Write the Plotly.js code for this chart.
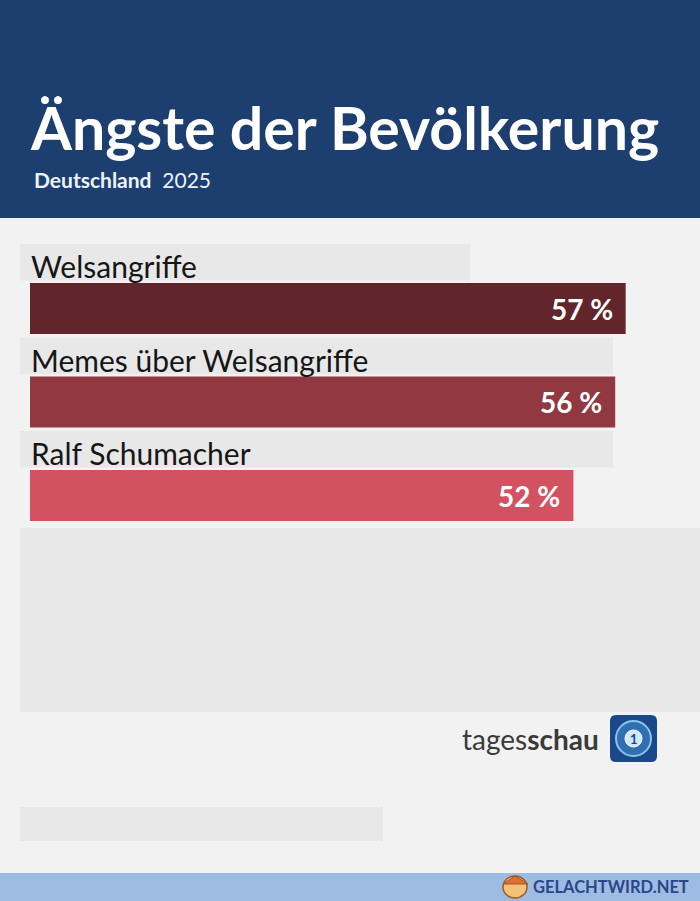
<!DOCTYPE html>
<html>
<head>
<meta charset="utf-8">
<script src="https://cdn.plot.ly/plotly-3.0.1.min.js"></script>
<style>
  html, body { margin: 0; padding: 0; background: #f2f2f2; }
  #chart { width: 700px; height: 901px; }
</style>
</head>
<body>
<div id="chart"></div>
<script>
// Survey data
const categories = ["Welsangriffe", "Memes über Welsangriffe", "Ralf Schumacher"];
const values = [57, 56, 52];
const valueLabels = values.map(v => v + " %");
const titleText = "Ängste der Bevölkerung";
const subtitleRegion = "Deutschland";
const subtitleYear = "2025";
const sourceLight = "tages";
const sourceBold = "schau";
const footerText = "GELACHTWIRD.NET";

// Page geometry (pixels)
const W = 700, H = 901;
const px = x => x / W;
const py = y => 1 - y / H;

const barColors = ["#62252b", "#923841", "#d35261"];
const labelBoxRight = [470, 613, 613];
const pxPerPct = 10.45;        // horizontal scale of the bars
const barLeft = 30;
const rowPitch = 93.5;         // vertical distance between rows
const firstRow = 308.5;        // centre of the first bar
const barHeight = 51;

const rowIdx = categories.map((_, i) => i);

const bars = {
  type: "bar",
  orientation: "h",
  x: values,
  y: rowIdx,
  width: barHeight / rowPitch,
  marker: { color: barColors, line: { width: 0 } },
  hoverinfo: "skip",
  showlegend: false
};

const shapes = [];
const annotations = [];

// header band
shapes.push({ type: "rect", xref: "paper", yref: "paper", x0: 0, x1: 1, y0: py(218), y1: 1,
  fillcolor: "#1c3f6f", line: { width: 0 }, layer: "below" });

// grey placeholder panels
shapes.push({ type: "rect", xref: "paper", yref: "paper", x0: px(20), x1: 1, y0: py(712), y1: py(528),
  fillcolor: "#e8e8e8", line: { width: 0 }, layer: "below" });
shapes.push({ type: "rect", xref: "paper", yref: "paper", x0: px(20), x1: px(383), y0: py(841), y1: py(807),
  fillcolor: "#e8e8e8", line: { width: 0 }, layer: "below" });

// footer band
shapes.push({ type: "rect", xref: "paper", yref: "paper", x0: 0, x1: 1, y0: 0, y1: py(873),
  fillcolor: "#9dbbe3", line: { width: 0 }, layer: "below" });

// label boxes and category labels above each bar
categories.forEach((c, i) => {
  shapes.push({ type: "rect", xref: "paper", yref: "y", x0: px(20), x1: px(labelBoxRight[i]),
    y0: i - 0.69, y1: i - 0.30, fillcolor: "#e8e8e8", line: { width: 0 }, layer: "below" });
  annotations.push({ xref: "paper", yref: "y", x: px(29), y: i - 0.45, xanchor: "left", yanchor: "middle",
    text: c, showarrow: false, font: { family: "Lato", size: 30, color: "#161616" } });
  annotations.push({ xref: "x", yref: "y", x: values[i], y: i, xanchor: "right", yanchor: "middle",
    xshift: -11, text: "<b>" + valueLabels[i] + "</b>", showarrow: false,
    font: { family: "Lato", size: 28, color: "#ffffff" } });
});

// title and subtitle
annotations.push({ xref: "paper", yref: "paper", x: px(28), y: py(128), xanchor: "left", yanchor: "middle",
  text: "<b>" + titleText + "</b>", showarrow: false,
  font: { family: "Lato", size: 59, color: "#ffffff" } });
annotations.push({ xref: "paper", yref: "paper", x: px(32), y: py(180), xanchor: "left", yanchor: "middle",
  text: "<b>" + subtitleRegion + "</b>  " + subtitleYear, showarrow: false,
  font: { family: "Lato", size: 21, color: "#eef2f8" } });

// source logo
annotations.push({ xref: "paper", yref: "paper", x: px(601), y: py(739), xanchor: "right", yanchor: "middle",
  text: sourceLight + "<b>" + sourceBold + "</b>", showarrow: false,
  font: { family: "Lato", size: 28, color: "#3a3a3a" } });

function roundRect(x0, y0, x1, y1, r) {
  const X = v => px(v), Y = v => py(v);
  return `M${X(x0 + r)},${Y(y0)} L${X(x1 - r)},${Y(y0)} Q${X(x1)},${Y(y0)} ${X(x1)},${Y(y0 + r)} ` +
         `L${X(x1)},${Y(y1 - r)} Q${X(x1)},${Y(y1)} ${X(x1 - r)},${Y(y1)} L${X(x0 + r)},${Y(y1)} ` +
         `Q${X(x0)},${Y(y1)} ${X(x0)},${Y(y1 - r)} L${X(x0)},${Y(y0 + r)} Q${X(x0)},${Y(y0)} ${X(x0 + r)},${Y(y0)} Z`;
}
shapes.push({ type: "path", xref: "paper", yref: "paper", path: roundRect(610, 715, 657, 762, 6),
  fillcolor: "#1a4888", line: { width: 0 } });
shapes.push({ type: "circle", xref: "paper", yref: "paper", x0: px(616), x1: px(651), y0: py(756), y1: py(721),
  fillcolor: "#2f6fb2", line: { color: "#8cc4ec", width: 2 } });
shapes.push({ type: "circle", xref: "paper", yref: "paper", x0: px(625), x1: px(642), y0: py(747), y1: py(730),
  fillcolor: "#cfe9f8", line: { color: "#ffffff", width: 1 } });
annotations.push({ xref: "paper", yref: "paper", x: px(633.5), y: py(738.5), xanchor: "center", yanchor: "middle",
  text: "<b>1</b>", showarrow: false, font: { family: "Lato", size: 13, color: "#1a4888" } });

// footer mark
shapes.push({ type: "circle", xref: "paper", yref: "paper", x0: px(503), x1: px(527), y0: py(898), y1: py(876),
  fillcolor: "#f3c277", line: { color: "#9a5a25", width: 1.5 } });
shapes.push({ type: "path", xref: "paper", yref: "paper",
  path: `M${px(503)},${py(884)} L${px(515)},${py(876)} L${px(528)},${py(884)} Z`,
  fillcolor: "#e0703a", line: { color: "#9a5a25", width: 1 } });
annotations.push({ xref: "paper", yref: "paper", x: px(531), y: py(887), xanchor: "left", yanchor: "middle",
  text: "<b>" + footerText + "</b>", showarrow: false,
  font: { family: "Lato", size: 16.5, color: "#2a4789" } });

const layout = {
  width: W, height: H,
  margin: { l: 0, r: 0, t: 0, b: 0, pad: 0 },
  paper_bgcolor: "#f2f2f2",
  plot_bgcolor: "rgba(0,0,0,0)",
  xaxis: { domain: [px(barLeft), 1], range: [0, (W - barLeft) / pxPerPct],
    visible: false, fixedrange: true },
  yaxis: { domain: [0, 1], range: [(H - firstRow) / rowPitch, -firstRow / rowPitch],
    visible: false, fixedrange: true },
  shapes: shapes,
  annotations: annotations,
  showlegend: false
};

Plotly.newPlot("chart", [bars], layout, { displayModeBar: false, staticPlot: true });
</script>
</body>
</html>
